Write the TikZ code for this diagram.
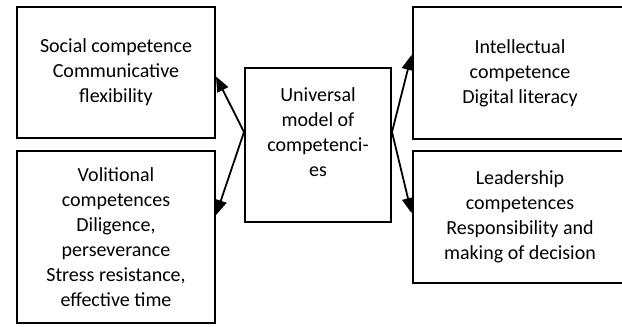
\documentclass[tikz,border=0pt]{standalone}
\usepackage{fontspec}
\setmainfont{Carlito}
\usetikzlibrary{arrows.meta}
\tikzset{
  box/.style={draw, line width=2pt, align=center, inner sep=0pt,
    font=\fontsize{20}{25}\selectfont},
  link/.style={line width=1.8pt, -{Triangle[length=15pt,width=12pt]}}
}
\begin{document}
\begin{tikzpicture}[x=1pt,y=-1pt]
	\clip (0,0) rectangle (622,327);
	\node (soc) at (116,72.5) [box, minimum width=198pt, minimum height=131pt] {Social competence\\Communicative\\flexibility};
	\node (vol) at (116,237) [box, minimum width=198pt, minimum height=172pt] {Volitional\\competences\\Diligence,\\perseverance\\Stress resistance,\\effective time};
	\node (uni) at (318,145) [box, minimum width=146pt, minimum height=154pt] {Universal\\model of\\competenci-\\es\\~};
	\node (int) at (520,73) [box, minimum width=215pt, minimum height=132pt] {Intellectual\\competence\\Digital literacy};
	\node (lea) at (520,217) [box, minimum width=215pt, minimum height=132pt] {Leadership\\competences\\Responsibility and\\making of decision};
	\draw[link] ([yshift=13pt]uni.west) -- ([yshift=-4pt]soc.east);
	\draw[link] ([yshift=13pt]uni.west) -- ([yshift=22pt]vol.east);
	\draw[link] ([yshift=13pt]uni.east) -- ([yshift=18pt]int.west);
	\draw[link] ([yshift=13pt]uni.east) -- ([yshift=4pt]lea.west);
\end{tikzpicture}
\end{document}
